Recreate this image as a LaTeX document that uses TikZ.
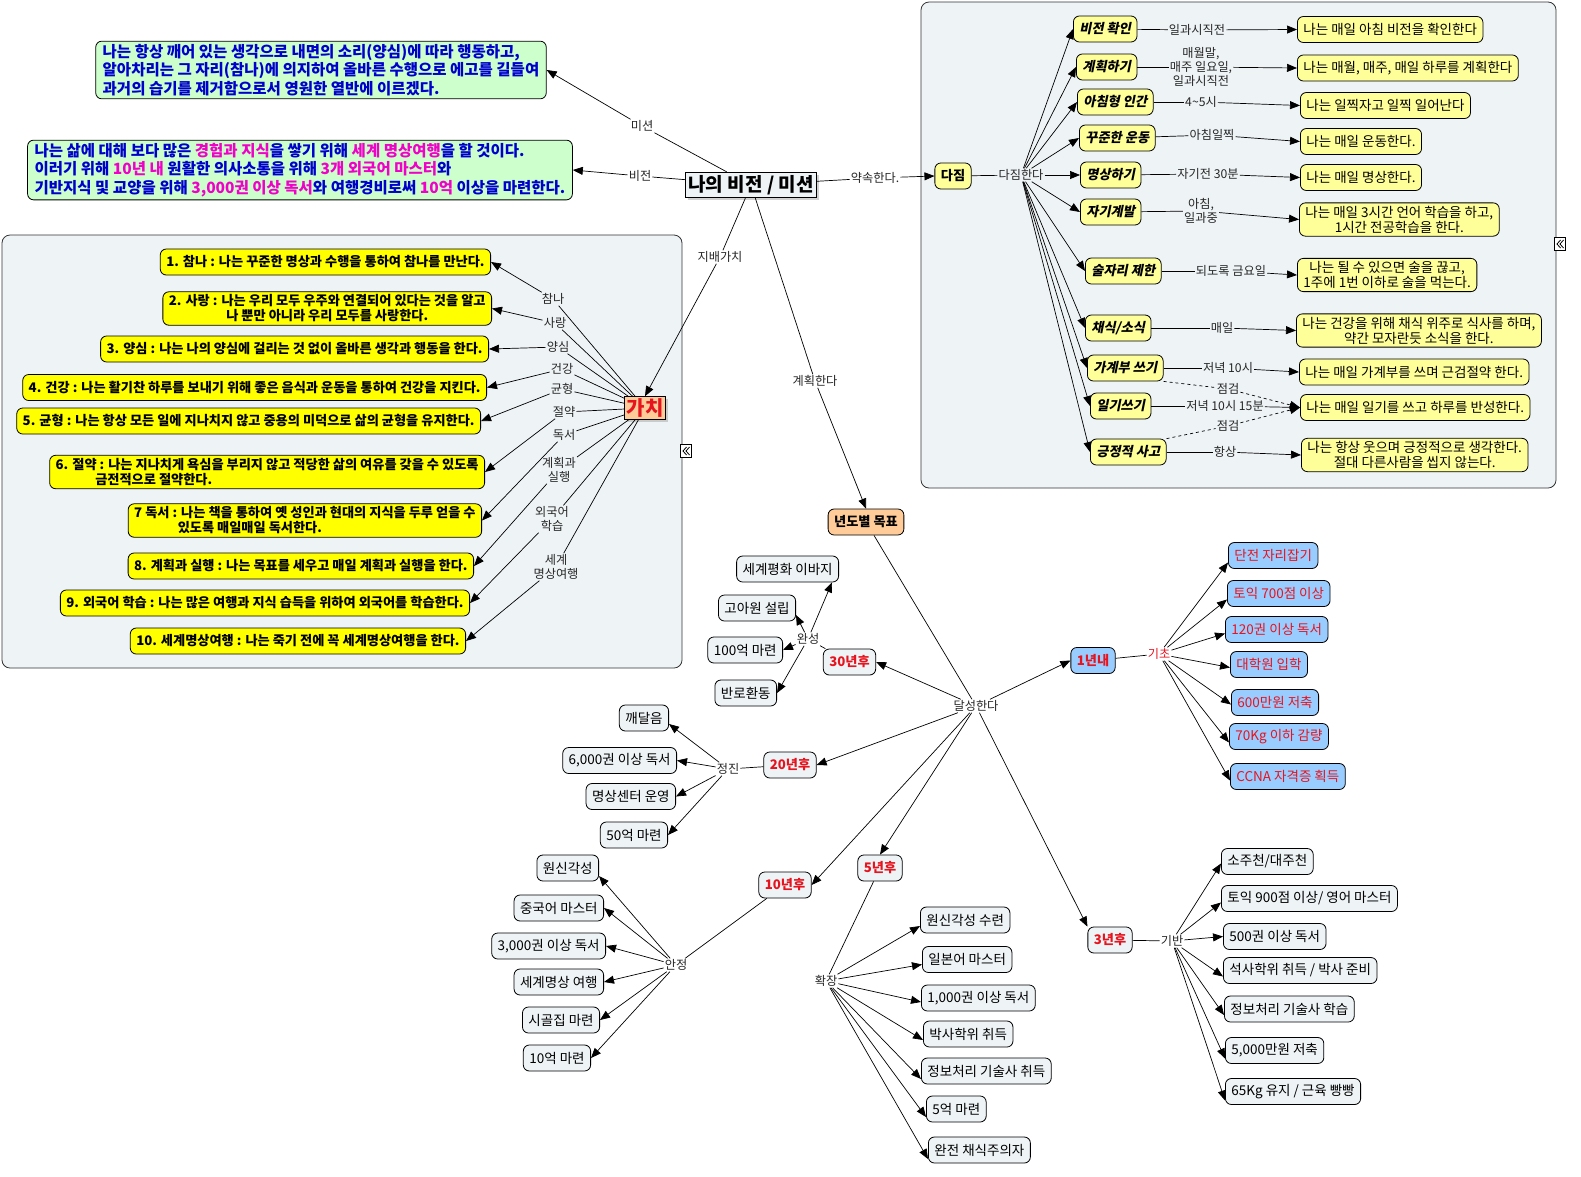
\documentclass[tikz,border=0pt]{standalone}
\usepackage{fontspec}
\setmainfont{Noto Sans CJK KR}
\newfontfamily\slantkr{Noto Sans CJK KR}[FakeSlant=0.2]
\usetikzlibrary{arrows.meta,shadows}

\definecolor{panelbg}{RGB}{238,243,246}
\definecolor{valyellow}{RGB}{255,255,0}
\definecolor{paleyellow}{RGB}{255,255,153}
\definecolor{mintgreen}{RGB}{204,255,204}
\definecolor{peach}{RGB}{255,204,153}
\definecolor{skyblue}{RGB}{153,204,255}
\definecolor{goalred}{RGB}{230,20,30}
\definecolor{textblue}{RGB}{0,0,204}
\definecolor{magt}{RGB}{240,0,200}
\newcommand\hlmag[1]{\textcolor{magt}{#1}}

\begin{document}
\begin{tikzpicture}[x=1pt,y=-1pt,
  every node/.style={font=\fontsize{13.5}{15}\selectfont},
  panel/.style={draw=black!80, fill=panelbg, rounded corners=8pt, line width=0.8pt},
  box/.style={draw, line width=0.8pt, rounded corners=6pt, inner xsep=6pt, inner ysep=3pt, minimum height=26pt, fill=panelbg, align=center},
  valbox/.style={box, fill=valyellow, font=\bfseries\fontsize{13.2}{15}\selectfont},
  vowbox/.style={box, fill=paleyellow, font=\slantkr\bfseries\fontsize{13.2}{15}\selectfont},
  actbox/.style={box, fill=paleyellow},
  goalbox/.style={box, text=goalred, font=\bfseries\fontsize{13.2}{15}\selectfont},
  bluebox/.style={box, fill=skyblue, text=goalred},
  textbox/.style={box, fill=mintgreen, align=left, inner xsep=7pt, text=textblue, font=\bfseries\fontsize{15.5}{18.5}\selectfont},
  lab/.style={inner sep=1pt, align=center, text=black!85, font=\fontsize{12.2}{14}\selectfont},
  fold/.style={draw, fill=white, line width=0.7pt, inner sep=0pt, minimum width=11pt, minimum height=13pt},
  chev/.style={line width=0.8pt},
  link/.style={line width=0.7pt},
  arr/.style={-{Triangle[length=10pt,width=8pt]}}]
  \useasboundingbox (0,0) rectangle (1581,1176);

  % panels
  \draw[panel] (2,235) rectangle (682,668);
  \draw[panel] (921,2) rectangle (1556,488);
  \node[fold] (fold1) at (686,451) {};
  \node[fold] (fold2) at (1560,244) {};
  \draw[chev] ([xshift=0.5pt,yshift=4pt]fold1.center) -- ([xshift=-3pt]fold1.center) -- ([xshift=0.5pt,yshift=-4pt]fold1.center);
  \draw[chev] ([xshift=3.5pt,yshift=4pt]fold1.center) -- ([xshift=0pt]fold1.center) -- ([xshift=3.5pt,yshift=-4pt]fold1.center);
  \draw[chev] ([xshift=0.5pt,yshift=4pt]fold2.center) -- ([xshift=-3pt]fold2.center) -- ([xshift=0.5pt,yshift=-4pt]fold2.center);
  \draw[chev] ([xshift=3.5pt,yshift=4pt]fold2.center) -- ([xshift=0pt]fold2.center) -- ([xshift=3.5pt,yshift=-4pt]fold2.center);

  % centre, mission and vision
  \node (hub) [draw, fill=panelbg, inner sep=3pt, line width=0.8pt, drop shadow={shadow xshift=2.5pt, shadow yshift=-2.5pt, fill=black!35}, font=\bfseries\fontsize{19}{21}\selectfont] at (751,185) {나의 비전 / 미션};
  \node (mission) [textbox] at (321,70) {나는 항상 깨어 있는 생각으로 내면의 소리(양심)에 따라 행동하고,\\알아차리는 그 자리(참나)에 의지하여 올바른 수행으로 에고를 길들여\\과거의 습기를 제거함으로서 영원한 열반에 이르겠다.};
  \node (vision) [textbox] at (300,170) {나는 삶에 대해 보다 많은 \hlmag{경험과 지식}을 쌓기 위해 \hlmag{세계 명상여행}을 할 것이다.\\이러기 위해 \hlmag{10년 내} 원활한 의사소통을 위해 \hlmag{3개 외국어 마스터}와\\기반지식 및 교양을 위해 \hlmag{3,000권 이상 독서}와 여행경비로써 \hlmag{10억} 이상을 마련한다.};
  \node (lmission) [lab] at (642,126) {미션};
  \node (lvision) [lab] at (640,176) {비전};
  \node (lpromise) [lab] at (875,178) {약속한다.};
  \node (lrule) [lab] at (720,257) {지배가치};
  \node (lplan) [lab] at (815,381) {계획한다};
  \draw[link] (hub) -- (lmission);
  \draw[link,arr] (lmission) -- (mission.east);
  \draw[link] (hub) -- (lvision);
  \draw[link,arr] (lvision) -- (vision.east);

  % values
  \node (gachi) [draw, fill=peach, text=goalred, inner sep=2pt, line width=0.8pt, drop shadow={shadow xshift=2.5pt, shadow yshift=-2.5pt, fill=black!35}, font=\bfseries\fontsize{20}{22}\selectfont] at (645,408) {가치};
  \draw[link] (hub) -- (lrule);
  \draw[link,arr] (lrule) -- (gachi.north);
  \node (v1) [valbox, anchor=east] at (491,262) {1. 참나 : 나는 꾸준한 명상과 수행을 통하여 참나를 만난다.};
  \node (v2) [valbox, anchor=east] at (492,308.5) {2. 사랑 : 나는 우리 모두 우주와 연결되어 있다는 것을 알고\\나 뿐만 아니라 우리 모두를 사랑한다.};
  \node (v3) [valbox, anchor=east] at (489,349) {3. 양심 : 나는 나의 양심에 걸리는 것 없이 올바른 생각과 행동을 한다.};
  \node (v4) [valbox, anchor=east] at (487,387.5) {4. 건강 : 나는 활기찬 하루를 보내기 위해 좋은 음식과 운동을 통하여 건강을 지킨다.};
  \node (v5) [valbox, anchor=east] at (481,421) {5. 균형 : 나는 항상 모든 일에 지나치지 않고 중용의 미덕으로 삶의 균형을 유지한다.};
  \node (v6) [valbox, anchor=east, align=left] at (485,472) {6. 절약 : 나는 지나치게 욕심을 부리지 않고 적당한 삶의 여유를 갖을 수 있도록\\\hspace*{3em}금전적으로 절약한다.};
  \node (v7) [valbox, anchor=east, align=left] at (482,520.5) {7 독서 : 나는 책을 통하여 옛 성인과 현대의 지식을 두루 얻을 수\\\hspace*{3.3em}있도록 매일매일 독서한다.};
  \node (v8) [valbox, anchor=east] at (474,566) {8. 계획과 실행 : 나는 목표를 세우고 매일 계획과 실행을 한다.};
  \node (v9) [valbox, anchor=east] at (470,603) {9. 외국어 학습 : 나는 많은 여행과 지식 습득을 위하여 외국어를 학습한다.};
  \node (v10) [valbox, anchor=east] at (466,641) {10. 세계명상여행 : 나는 죽기 전에 꼭 세계명상여행을 한다.};
  \node (lv1) [lab] at (553,299) {참나};
  \node (lv2) [lab] at (555,323) {사랑};
  \node (lv3) [lab] at (558,347) {양심};
  \node (lv4) [lab] at (562,369) {건강};
  \node (lv5) [lab] at (562,389) {균형};
  \node (lv6) [lab] at (564,412) {절약};
  \node (lv7) [lab] at (564,435) {독서};
  \node (lv8) [lab] at (559,470) {계획과\\실행};
  \node (lv9) [lab] at (552,519) {외국어\\학습};
  \node (lv10) [lab] at (556,567) {세계\\명상여행};
  \draw[link] (gachi) -- (lv1);  \draw[link,arr] (lv1) -- (v1.east);
  \draw[link] (gachi) -- (lv2);  \draw[link,arr] (lv2) -- (v2.east);
  \draw[link] (gachi) -- (lv3);  \draw[link,arr] (lv3) -- (v3.east);
  \draw[link] (gachi) -- (lv4);  \draw[link,arr] (lv4) -- (v4.east);
  \draw[link] (gachi) -- (lv5);  \draw[link,arr] (lv5) -- (v5.east);
  \draw[link] (gachi) -- (lv6);  \draw[link,arr] (lv6) -- (v6.east);
  \draw[link] (gachi) -- (lv7);  \draw[link,arr] (lv7) -- (v7.east);
  \draw[link] (gachi) -- (lv8);  \draw[link,arr] (lv8) -- (v8.east);
  \draw[link] (gachi) -- (lv9);  \draw[link,arr] (lv9) -- (v9.east);
  \draw[link] (gachi) -- (lv10); \draw[link,arr] (lv10) -- (v10.east);

  % vows
  \node (dajim) [vowbox, font=\bfseries\fontsize{13.2}{15}\selectfont] at (953,176) {다짐};
  \draw[link] (hub) -- (lpromise);
  \draw[link,arr] (lpromise) -- (dajim.west);
  \node (ldajim) [lab] at (1021,175) {다짐한다};
  \draw[link] (dajim) -- (ldajim);
  \node (i1) [vowbox, anchor=west] at (1073,29) {비전 확인};
  \node (i2) [vowbox, anchor=west] at (1076,67) {계획하기};
  \node (i3) [vowbox, anchor=west] at (1077,102) {아침형 인간};
  \node (i4) [vowbox, anchor=west] at (1079,138) {꾸준한 운동};
  \node (i5) [vowbox, anchor=west] at (1080,175) {명상하기};
  \node (i6) [vowbox, anchor=west] at (1080,212) {자기계발};
  \node (i7) [vowbox, anchor=west] at (1085,271) {술자리 제한};
  \node (i8) [vowbox, anchor=west] at (1085,328) {채식/소식};
  \node (i9) [vowbox, anchor=west] at (1087,368) {가계부 쓰기};
  \node (i10) [vowbox, anchor=west] at (1090,406) {일기쓰기};
  \node (i11) [vowbox, anchor=west] at (1090,452) {긍정적 사고};
  \node (r1) [actbox, anchor=west] at (1297,29.5) {나는 매일 아침 비전을 확인한다};
  \node (r2) [actbox, anchor=west] at (1297,68) {나는 매월, 매주, 매일 하루를 계획한다};
  \node (r3) [actbox, anchor=west] at (1300,105.5) {나는 일찍자고 일찍 일어난다};
  \node (r4) [actbox, anchor=west] at (1300,141.5) {나는 매일 운동한다.};
  \node (r5) [actbox, anchor=west] at (1300,177.5) {나는 매일 명상한다.};
  \node (r6) [actbox, anchor=west] at (1299,219.5) {나는 매일 3시간 언어 학습을 하고,\\1시간 전공학습을 한다.};
  \node (r7) [actbox, anchor=west] at (1297,275) {나는 될 수 있으면 술을 끊고,\\1주에 1번 이하로 술을 먹는다.};
  \node (r8) [actbox, anchor=west] at (1296,330.5) {나는 건강을 위해 채식 위주로 식사를 하며,\\약간 모자란듯 소식을 한다.};
  \node (r9) [actbox, anchor=west] at (1299,372) {나는 매일 가계부를 쓰며 근검절약 한다.};
  \node (r10) [actbox, anchor=west] at (1300,407.5) {나는 매일 일기를 쓰고 하루를 반성한다.};
  \node (r11) [actbox, anchor=west] at (1301,455) {나는 항상 웃으며 긍정적으로 생각한다.\\절대 다른사람을 씹지 않는다.};
  \node (m1) [lab] at (1197,30) {일과시직전};
  \node (m2) [lab] at (1201,67) {매월말,\\매주 일요일,\\일과시직전};
  \node (m3) [lab] at (1201,102) {4\textasciitilde5시};
  \node (m4) [lab] at (1212,135) {아침일찍};
  \node (m5) [lab] at (1208,174) {자기전 30분};
  \node (m6) [lab] at (1201,211) {아침,\\일과중};
  \node (m7) [lab] at (1231,271) {되도록 금요일};
  \node (m8) [lab] at (1222,328) {매일};
  \node (m9) [lab] at (1228,368) {저녁 10시};
  \node (m10) [lab] at (1225,406) {저녁 10시 15분};
  \node (m11) [lab] at (1225,452) {항상};
  \node (chk1) [lab] at (1228,389) {점검};
  \node (chk2) [lab] at (1228,426) {점검};
  \draw[link,arr] (ldajim) -- (i1.west);
  \draw[link,arr] (ldajim) -- (i2.west);
  \draw[link,arr] (ldajim) -- (i3.west);
  \draw[link,arr] (ldajim) -- (i4.west);
  \draw[link,arr] (ldajim) -- (i5.west);
  \draw[link,arr] (ldajim) -- (i6.west);
  \draw[link,arr] (ldajim) -- (i7.west);
  \draw[link,arr] (ldajim) -- (i8.west);
  \draw[link,arr] (ldajim) -- (i9.west);
  \draw[link,arr] (ldajim) -- (i10.west);
  \draw[link,arr] (ldajim) -- (i11.west);
  \draw[link] (i1) -- (m1);   \draw[link,arr] (m1) -- (r1.west);
  \draw[link] (i2) -- (m2);   \draw[link,arr] (m2) -- (r2.west);
  \draw[link] (i3) -- (m3);   \draw[link,arr] (m3) -- (r3.west);
  \draw[link] (i4) -- (m4);   \draw[link,arr] (m4) -- (r4.west);
  \draw[link] (i5) -- (m5);   \draw[link,arr] (m5) -- (r5.west);
  \draw[link] (i6) -- (m6);   \draw[link,arr] (m6) -- (r6.west);
  \draw[link] (i7) -- (m7);   \draw[link,arr] (m7) -- (r7.west);
  \draw[link] (i8) -- (m8);   \draw[link,arr] (m8) -- (r8.west);
  \draw[link] (i9) -- (m9);   \draw[link,arr] (m9) -- (r9.west);
  \draw[link] (i10) -- (m10); \draw[link,arr] (m10) -- (r10.west);
  \draw[link] (i11) -- (m11); \draw[link,arr] (m11) -- (r11.west);
  \draw[link,dashed] (i9.south east) -- (chk1);
  \draw[link,dashed,arr] (chk1) -- (r10.west);
  \draw[link,dashed] (i11.north east) -- (chk2);
  \draw[link,dashed,arr] (chk2) -- (r10.west);

  % yearly goals
  \node (goals) [box, fill=peach, font=\bfseries\fontsize{13.2}{15}\selectfont] at (866,522) {년도별 목표};
  \draw[link] (hub) -- (lplan);
  \draw[link,arr] (lplan) -- (goals.north);
  \node (lreach) [lab] at (976,706) {달성한다};
  \draw[link] (goals) -- (lreach);
  \node (y30) [goalbox] at (849.5,662) {30년후};
  \node (y20) [goalbox] at (790,765) {20년후};
  \node (y10) [goalbox] at (785,885) {10년후};
  \node (y5) [goalbox] at (880,868) {5년후};
  \node (y3) [goalbox] at (1110,940) {3년후};
  \node (y1) [bluebox, font=\bfseries\fontsize{13.2}{15}\selectfont] at (1093,660.5) {1년내};
  \draw[link,arr] (lreach) -- (y30.east);
  \draw[link,arr] (lreach) -- (y20.east);
  \draw[link,arr] (lreach) -- (y10.east);
  \draw[link,arr] (lreach) -- (y5.north);
  \draw[link,arr] (lreach) -- (y3.north west);
  \draw[link,arr] (lreach) -- (y1.west);

  % 30 years
  \node (l30) [lab] at (808,639) {완성};
  \node (w1) [box, anchor=east] at (839,569) {세계평화 이바지};
  \node (w2) [box, anchor=east] at (796,608) {고아원 설립};
  \node (w3) [box, anchor=east] at (783,650) {100억 마련};
  \node (w4) [box, anchor=east] at (777,693) {반로환동};
  \draw[link] (y30) -- (l30);
  \draw[link,arr] (l30) -- ([xshift=-7pt]w1.south east);
  \draw[link,arr] (l30) -- ([yshift=-7pt]w2.east);
  \draw[link,arr] (l30) -- (w3.east);
  \draw[link,arr] (l30) -- (w4.east);

  % 20 years
  \node (l20) [lab] at (728,769) {정진};
  \node (j1) [box, anchor=east] at (669,718) {깨달음};
  \node (j2) [box, anchor=east] at (677,760.5) {6,000권 이상 독서};
  \node (j3) [box, anchor=east] at (676,796.5) {명상센터 운영};
  \node (j4) [box, anchor=east] at (668,835) {50억 마련};
  \draw[link] (y20) -- (l20);
  \draw[link,arr] (l20) -- ([yshift=-6pt]j1.east);
  \draw[link,arr] (l20) -- (j2.east);
  \draw[link,arr] (l20) -- (j3.east);
  \draw[link,arr] (l20) -- (j4.east);

  % 10 years
  \node (l10) [lab] at (676,965) {안정};
  \node (a1) [box, anchor=east] at (599,868) {원신각성};
  \node (a2) [box, anchor=east] at (604,908) {중국어 마스터};
  \node (a3) [box, anchor=east] at (606,946) {3,000권 이상 독서};
  \node (a4) [box, anchor=east] at (604,982) {세계명상 여행};
  \node (a5) [box, anchor=east] at (600,1020) {시골집 마련};
  \node (a6) [box, anchor=east] at (591,1058) {10억 마련};
  \draw[link] (y10) -- (l10);
  \draw[link,arr] (l10) -- ([yshift=-8pt]a1.east);
  \draw[link,arr] (l10) -- (a2.east);
  \draw[link,arr] (l10) -- (a3.east);
  \draw[link,arr] (l10) -- (a4.east);
  \draw[link,arr] (l10) -- (a5.east);
  \draw[link,arr] (l10) -- (a6.east);

  % 5 years
  \node (l5) [lab] at (826,981) {확장};
  \node (b1) [box, anchor=west] at (920,920) {원신각성 수련};
  \node (b2) [box, anchor=west] at (922,959.5) {일본어 마스터};
  \node (b3) [box, anchor=west] at (921,998) {1,000권 이상 독서};
  \node (b4) [box, anchor=west] at (923,1034) {박사학위 취득};
  \node (b5) [box, anchor=west] at (921,1071) {정보처리 기술사 취득};
  \node (b6) [box, anchor=west] at (926,1109) {5억 마련};
  \node (b7) [box, anchor=west] at (928,1150) {완전 채식주의자};
  \draw[link] (y5) -- (l5);
  \draw[link,arr] (l5) -- ([yshift=-6pt]b1.west);
  \draw[link,arr] (l5) -- ([yshift=-5pt]b2.west);
  \draw[link,arr] (l5) -- ([yshift=-4pt]b3.west);
  \draw[link,arr] (l5) -- ([yshift=-6pt]b4.west);
  \draw[link,arr] (l5) -- ([yshift=-8pt]b5.west);
  \draw[link,arr] (l5) -- ([yshift=-8pt]b6.west);
  \draw[link,arr] (l5) -- ([yshift=-9pt]b7.west);

  % 1 year
  \node (l1) [lab, text=goalred] at (1159,654) {기초};
  \node (c1) [bluebox, anchor=west] at (1228,555.5) {단전 자리잡기};
  \node (c2) [bluebox, anchor=west] at (1227,593.5) {토익 700점 이상};
  \node (c3) [bluebox, anchor=west] at (1225,629.5) {120권 이상 독서};
  \node (c4) [bluebox, anchor=west] at (1230,664.5) {대학원 입학};
  \node (c5) [bluebox, anchor=west] at (1231,702.5) {600만원 저축};
  \node (c6) [bluebox, anchor=west] at (1229,736.5) {70Kg 이하 감량};
  \node (c7) [bluebox, anchor=west] at (1230,776.5) {CCNA 자격증 획득};
  \draw[link] (y1) -- (l1);
  \draw[link,arr] (l1) -- ([yshift=-7pt]c1.west);
  \draw[link,arr] (l1) -- ([yshift=-6pt]c2.west);
  \draw[link,arr] (l1) -- ([yshift=-4pt]c3.west);
  \draw[link,arr] (l1) -- ([yshift=-3pt]c4.west);
  \draw[link,arr] (l1) -- ([yshift=-2pt]c5.west);
  \draw[link,arr] (l1) -- ([yshift=-6pt]c6.west);
  \draw[link,arr] (l1) -- ([yshift=-4pt]c7.west);

  % 3 years
  \node (l3) [lab] at (1172,941) {기반};
  \node (d1) [box, anchor=west] at (1221,861.5) {소주천/대주천};
  \node (d2) [box, anchor=west] at (1221,898.5) {토익 900점 이상/ 영어 마스터};
  \node (d3) [box, anchor=west] at (1223,936.5) {500권 이상 독서};
  \node (d4) [box, anchor=west] at (1223,970.5) {석사학위 취득 / 박사 준비};
  \node (d5) [box, anchor=west] at (1224,1009) {정보처리 기술사 학습};
  \node (d6) [box, anchor=west] at (1225,1050.5) {5,000만원 저축};
  \node (d7) [box, anchor=west] at (1225,1091.5) {65Kg 유지 / 근육 빵빵};
  \draw[link] (y3) -- (l3);
  \draw[link,arr] (l3) -- ([yshift=-2pt]d1.west);
  \draw[link,arr] (l3) -- ([yshift=-4pt]d2.west);
  \draw[link,arr] (l3) -- (d3.west);
  \draw[link,arr] (l3) -- ([yshift=-6pt]d4.west);
  \draw[link,arr] (l3) -- ([yshift=-6pt]d5.west);
  \draw[link,arr] (l3) -- ([yshift=-8pt]d6.west);
  \draw[link,arr] (l3) -- ([yshift=-9pt]d7.west);
\end{tikzpicture}
\end{document}
